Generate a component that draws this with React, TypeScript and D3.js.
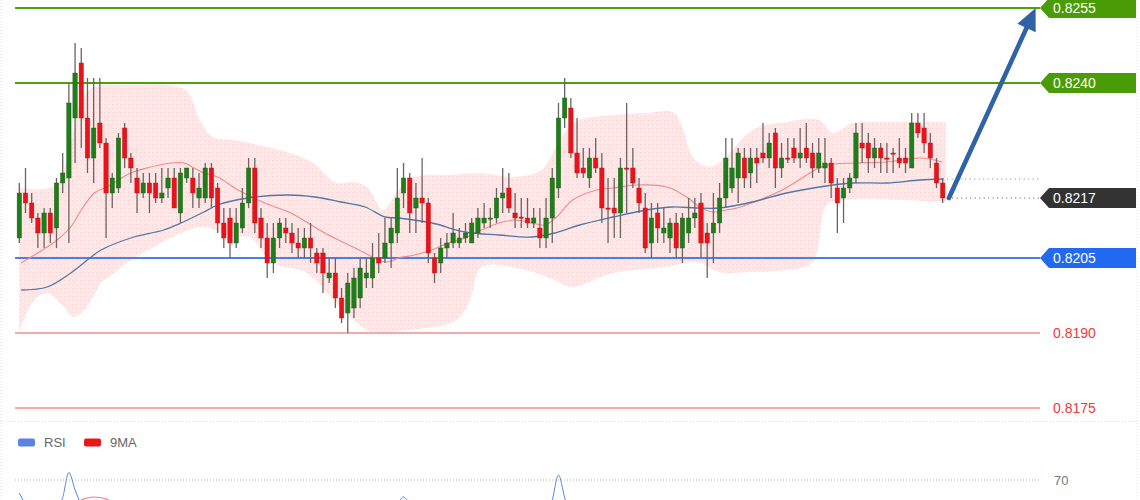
import React from "react";
import * as d3 from "d3";

// ---- candle data (150 bars) ----
const candleOpen = [
  0.8209, 0.8218, 0.8216, 0.8213, 0.821, 0.8214, 0.8211, 0.822, 0.8221, 0.8233,
  0.8244, 0.8233, 0.8225, 0.8232, 0.8228, 0.8218, 0.8219, 0.8231, 0.8225, 0.8221,
  0.8218, 0.822, 0.822, 0.8217, 0.8219, 0.8221, 0.8214, 0.8221, 0.8221, 0.8217,
  0.8217, 0.8223, 0.8219, 0.8212, 0.8213, 0.8208, 0.8211, 0.8216, 0.8223, 0.8213,
  0.8209, 0.8204, 0.8209, 0.8211, 0.821, 0.8208, 0.8207, 0.8209, 0.8206, 0.8206,
  0.8201, 0.8202, 0.8197, 0.8194, 0.8195, 0.8197, 0.8201, 0.8201, 0.8205, 0.8205,
  0.8208, 0.821, 0.8218, 0.8221, 0.8215, 0.8217, 0.8216, 0.8205, 0.8204, 0.8207,
  0.8208, 0.8208, 0.8209, 0.8208, 0.821, 0.8212, 0.82128, 0.8213, 0.8217, 0.8219,
  0.8214, 0.82132, 0.8213, 0.8212, 0.8211, 0.8209, 0.8213, 0.8219, 0.8233, 0.8235,
  0.8226, 0.8223, 0.8221, 0.8225, 0.8223, 0.8215, 0.8215, 0.8214, 0.8223, 0.8223,
  0.8219, 0.8215, 0.8208, 0.8214, 0.821, 0.8209, 0.8212, 0.8207, 0.821, 0.8213,
  0.8216, 0.821, 0.821, 0.8212, 0.8217, 0.8219, 0.8221, 0.8225, 0.8222, 0.8225,
  0.8226, 0.8225, 0.823, 0.8223, 0.8225, 0.8227, 0.8225, 0.8227, 0.8226, 0.8223,
  0.8223, 0.8224, 0.8219, 0.8217, 0.8219, 0.8221, 0.8228, 0.8228, 0.8225, 0.8227,
  0.8225, 0.8226, 0.8225, 0.8225, 0.8223, 0.8232, 0.8231, 0.8228, 0.8224, 0.822,
];
const candleHigh = [
  0.822, 0.8223, 0.8218, 0.8214, 0.8215, 0.8215, 0.8221, 0.8226, 0.824, 0.8248,
  0.8247, 0.8241, 0.8241, 0.8241, 0.8229, 0.8222, 0.823, 0.8232, 0.8226, 0.8223,
  0.8222, 0.8222, 0.8222, 0.8223, 0.8223, 0.8223, 0.8223, 0.8223, 0.8223, 0.8222,
  0.8224, 0.8224, 0.822, 0.8215, 0.8215, 0.8215, 0.8219, 0.8225, 0.8225, 0.8215,
  0.8212, 0.8212, 0.8213, 0.8213, 0.8212, 0.8211, 0.8211, 0.8212, 0.8207, 0.8207,
  0.8205, 0.8205, 0.8199, 0.8202, 0.8203, 0.8205, 0.8205, 0.8208, 0.821, 0.8213,
  0.8213, 0.8223, 0.8224, 0.8222, 0.822, 0.8225, 0.8217, 0.8206, 0.8209, 0.821,
  0.8214, 0.8211, 0.8212, 0.8213, 0.8215, 0.8216, 0.8215, 0.8219, 0.8223, 0.8222,
  0.8218, 0.8217, 0.8217, 0.8215, 0.8215, 0.8217, 0.8223, 0.8236, 0.8241, 0.8237,
  0.8233, 0.8227, 0.8227, 0.8229, 0.8226, 0.8221, 0.8221, 0.8225, 0.8236, 0.8227,
  0.8221, 0.8218, 0.8216, 0.8216, 0.8215, 0.8213, 0.8214, 0.8214, 0.8217, 0.8217,
  0.8218, 0.8212, 0.8218, 0.822, 0.8229, 0.8229, 0.8227, 0.8227, 0.8227, 0.8227,
  0.8232, 0.823, 0.8231, 0.8228, 0.8229, 0.8229, 0.8231, 0.8232, 0.8228, 0.8229,
  0.8229, 0.8225, 0.8221, 0.8221, 0.8222, 0.8232, 0.8232, 0.823, 0.8229, 0.8228,
  0.8228, 0.8227, 0.8229, 0.8227, 0.8234, 0.8234, 0.8234, 0.823, 0.8225, 0.8221,
];
const candleLow = [
  0.8208, 0.8214, 0.8212, 0.8207, 0.8207, 0.8208, 0.8207, 0.8218, 0.8208, 0.8224,
  0.8227, 0.8222, 0.822, 0.8227, 0.8209, 0.8215, 0.8218, 0.8223, 0.822, 0.8214,
  0.8217, 0.8214, 0.8216, 0.8216, 0.8217, 0.8215, 0.8212, 0.822, 0.8215, 0.8215,
  0.8216, 0.8215, 0.821, 0.8207, 0.8205, 0.8207, 0.821, 0.8215, 0.821, 0.8207,
  0.8201, 0.8202, 0.8207, 0.8208, 0.8206, 0.8205, 0.8205, 0.8204, 0.8202, 0.8198,
  0.82, 0.8195, 0.8192, 0.819, 0.8193, 0.8195, 0.8199, 0.8199, 0.8202, 0.8204,
  0.8203, 0.8208, 0.8215, 0.821, 0.821, 0.8212, 0.8204, 0.82, 0.8202, 0.8205,
  0.8207, 0.8207, 0.8208, 0.8208, 0.8209, 0.8211, 0.8211, 0.8212, 0.8214, 0.8214,
  0.8211, 0.8211, 0.8211, 0.8211, 0.8207, 0.8207, 0.8208, 0.8217, 0.8231, 0.8225,
  0.8221, 0.8221, 0.8219, 0.8222, 0.8212, 0.8208, 0.8209, 0.8209, 0.8214, 0.8219,
  0.8214, 0.8206, 0.8205, 0.8208, 0.8208, 0.8206, 0.8205, 0.8204, 0.8208, 0.8211,
  0.8205, 0.8201, 0.8204, 0.821, 0.8215, 0.8218, 0.8216, 0.8219, 0.8219, 0.822,
  0.8224, 0.8223, 0.8219, 0.8221, 0.8224, 0.8224, 0.8223, 0.8224, 0.8221, 0.8222,
  0.822, 0.8217, 0.821, 0.8212, 0.8218, 0.822, 0.8224, 0.8222, 0.8223, 0.8222,
  0.8222, 0.8222, 0.8223, 0.8222, 0.8223, 0.8229, 0.8226, 0.8223, 0.8219, 0.8216,
];
const candleClose = [
  0.8218, 0.8216, 0.8213, 0.821, 0.8214, 0.821, 0.822, 0.8222, 0.8236, 0.8242,
  0.8233, 0.8225, 0.8231, 0.8228, 0.8218, 0.8221, 0.8229, 0.8225, 0.8223, 0.8218,
  0.822, 0.8218, 0.8217, 0.8218, 0.8221, 0.8215, 0.8222, 0.8223, 0.8218, 0.8219,
  0.8223, 0.8217, 0.8212, 0.8209, 0.8208, 0.8212, 0.8216, 0.8223, 0.8212, 0.8209,
  0.8204, 0.8209, 0.8212, 0.821, 0.8208, 0.8207, 0.8209, 0.8207, 0.8204, 0.8202,
  0.8202, 0.8197, 0.8193, 0.82, 0.8201, 0.8203, 0.8202, 0.8205, 0.8204, 0.8208,
  0.8211, 0.8217, 0.8221, 0.8214, 0.8217, 0.8216, 0.8206, 0.8202, 0.8207, 0.8208,
  0.821, 0.8209, 0.821, 0.8212, 0.8213, 0.8213, 0.8213, 0.8217, 0.8218, 0.8215,
  0.8213, 0.8213, 0.8212, 0.8213, 0.8209, 0.8213, 0.8221, 0.8233, 0.8237, 0.8226,
  0.8222, 0.8222, 0.8225, 0.8223, 0.8215, 0.82148, 0.8214, 0.8223, 0.82228, 0.822,
  0.8216, 0.8207, 0.8213, 0.8211, 0.8211, 0.8212, 0.8207, 0.8213, 0.8213, 0.8214,
  0.8208, 0.8208, 0.8212, 0.8217, 0.8225, 0.8223, 0.8226, 0.8221, 0.8225, 0.8224,
  0.8225, 0.8228, 0.8223, 0.8225, 0.82248, 0.8225, 0.8226, 0.8225, 0.8223, 0.8226,
  0.8224, 0.822, 0.8216, 0.8219, 0.8221, 0.823, 0.8227, 0.8225, 0.8227, 0.8225,
  0.82248, 0.82258, 0.8224, 0.8224, 0.8232, 0.823, 0.8228, 0.8225, 0.822, 0.8217,
];

// ---- Bollinger band edges, sampled [bar index, price] ----
const bandUpperIdx = [0, 5.8, 7.9, 9.8, 11.7, 17.9, 25.1, 27.2, 29.1, 31.2, 34.5, 37.2, 43.7, 47.4, 51.2, 53.8, 56.1, 58.7, 61.2, 63.8, 69.3, 74.6, 79.9, 84.3, 86.1, 88.3, 90.4, 95.7, 101.2, 105.4, 107.0, 108.7, 111.4, 113.8, 118.3, 123.8, 129.1, 131.2, 134.5, 140.0, 145.3, 149.5];
const bandUpper = [0.8219, 0.82194, 0.82256, 0.82356, 0.8239, 0.82396, 0.82394, 0.82382, 0.82326, 0.82292, 0.82286, 0.8228, 0.8226, 0.8224, 0.822, 0.82202, 0.82192, 0.82146, 0.82186, 0.82212, 0.82216, 0.8222, 0.82212, 0.82226, 0.8226, 0.82306, 0.82326, 0.82336, 0.8234, 0.82342, 0.82312, 0.82252, 0.82232, 0.8225, 0.82306, 0.82322, 0.82326, 0.823, 0.8232, 0.82322, 0.82322, 0.82322];
const bandLowerIdx = [0, 2.4, 4.5, 7.2, 8.8, 10.9, 13.2, 15.3, 18.0, 21.7, 26.1, 29.8, 34.5, 37.2, 40.9, 46.4, 51.7, 56.1, 58.2, 62.5, 66.7, 70.6, 72.7, 74.6, 81.6, 86.4, 89.1, 95.8, 104.5, 109.3, 113.0, 118.3, 123.8, 128.0, 130.3, 133.2, 142.0, 149.5];
const bandLower = [0.81902, 0.81966, 0.8198, 0.81952, 0.81932, 0.81952, 0.82, 0.8202, 0.82046, 0.82072, 0.821, 0.82112, 0.82092, 0.82092, 0.8204, 0.8202, 0.81952, 0.81906, 0.819, 0.81906, 0.81912, 0.81926, 0.81966, 0.82032, 0.82026, 0.82006, 0.81992, 0.8202, 0.82032, 0.82042, 0.82022, 0.82022, 0.82026, 0.82042, 0.82156, 0.82166, 0.82166, 0.82162];

// ---- moving averages, sampled [bar index, price] ----
const midIdx = [0.3, 4.5, 6.1, 8.3, 10.0, 12.1, 14.1, 18.0, 20.6, 24.5, 26.6, 28.2, 29.8, 32.0, 35.3, 39.6, 43.8, 46.6, 49.3, 52.5, 55.8, 57.9, 59.5, 61.2, 63.8, 66.6, 69.3, 71.9, 74.6, 77.4, 80.0, 82.7, 84.8, 86.7, 89.3, 93.2, 95.8, 99.6, 104.5, 107.7, 109.8, 111.9, 114.1, 115.8, 123.1, 128.4, 130.3, 134.5, 140.0, 145.3, 148.9];
const midVal = [0.8204, 0.82072, 0.82086, 0.82112, 0.82146, 0.8218, 0.82192, 0.8222, 0.8223, 0.8224, 0.8224, 0.8223, 0.8222, 0.82212, 0.82186, 0.8216, 0.8214, 0.8212, 0.821, 0.8208, 0.8206, 0.82046, 0.82042, 0.8205, 0.82056, 0.82066, 0.8208, 0.8209, 0.82106, 0.8212, 0.82126, 0.8212, 0.82116, 0.82132, 0.82166, 0.82186, 0.8219, 0.82196, 0.82192, 0.82172, 0.82152, 0.82142, 0.82146, 0.8215, 0.82186, 0.82226, 0.82236, 0.8224, 0.82242, 0.8225, 0.82242];
const slowIdx = [0.3, 4.5, 8.3, 11.6, 13.2, 18.0, 23.3, 26.1, 29.8, 32.0, 36.9, 43.3, 47.7, 51.9, 55.8, 59.0, 61.2, 66.6, 71.9, 77.4, 82.7, 86.4, 90.4, 95.8, 101.2, 105.4, 109.3, 113.0, 118.3, 123.8, 129.1, 134.5, 140.0, 145.3, 148.9];
const slowVal = [0.81986, 0.81992, 0.8202, 0.82052, 0.82066, 0.8209, 0.82106, 0.8212, 0.82142, 0.82156, 0.8217, 0.82176, 0.82172, 0.82162, 0.82152, 0.82132, 0.8213, 0.8212, 0.82102, 0.82096, 0.82092, 0.821, 0.82116, 0.82132, 0.82146, 0.82152, 0.8215, 0.8215, 0.82162, 0.8218, 0.82192, 0.822, 0.822, 0.82206, 0.82208];

// ---- levels ----
const resistanceLevels = [0.8255, 0.824];
const supportLevel = 0.8205;
const lowerLevels = [0.819, 0.8175];
const currentPrice = 0.8217;
const arrowFromIdx = 150;
const arrowToIdx = 164;
const arrowTarget = 0.8255;

// ---- RSI panel ----
const rsiIdx = [0, 1, 2, 6, 7, 8, 9, 10, 11, 60, 61, 62, 63, 64, 85, 86, 87, 88, 89, 149];
const rsiVal = [64.8, 60, 55, 58, 63, 73, 66, 60, 55, 55, 60, 63.2, 60, 55, 55, 62, 72, 63, 55, 55];
const maIdx = [8, 9, 10, 11, 12, 13, 14, 15, 16];
const maVal = [57, 60, 62, 62.8, 63.2, 63, 62.4, 61, 58];
const rsiLevel = 70;
const legendItems = ["RSI", "9MA"];

const fmt = (v: number) => v.toFixed(4);

export default function App() {
  const W = 1140;
  const H = 500;
  const x = d3.scaleLinear().domain([0, 149]).range([19.3, 942.7]);
  const y = d3.scaleLinear().domain([0.8175, 0.8255]).range([408, 8]);
  const ry = d3.scaleLinear().domain([30, 70]).range([580, 480]);
  const lineLeft = 15;
  const lineRight = 1040;
  const bodyW = 4.4;

  const curveLine = d3
    .line<[number, number]>()
    .x((d) => x(d[0]))
    .y((d) => y(d[1]))
    .curve(d3.curveCatmullRom.alpha(0.5));

  const upperPts = bandUpperIdx.map((k, i) => [k, bandUpper[i]] as [number, number]);
  const lowerPts = bandLowerIdx.map((k, i) => [k, bandLower[i]] as [number, number]).reverse();
  const bandPath =
    (curveLine(upperPts) || "") + "L" + (curveLine(lowerPts) || "").slice(1) + "Z";
  const midPath = curveLine(midIdx.map((k, i) => [k, midVal[i]] as [number, number])) || "";
  const slowPath = curveLine(slowIdx.map((k, i) => [k, slowVal[i]] as [number, number])) || "";

  const rsiLine = d3
    .line<[number, number]>()
    .x((d) => x(d[0]))
    .y((d) => ry(d[1]))
    .curve(d3.curveMonotoneX);
  const rsiPath = rsiLine(rsiIdx.map((k, i) => [k, rsiVal[i]] as [number, number])) || "";
  const maPath = rsiLine(maIdx.map((k, i) => [k, maVal[i]] as [number, number])) || "";

  const tag = (cy: number) =>
    `M${lineRight},${cy} L${lineRight + 9},${cy - 10} L1136,${cy - 10} L1136,${cy + 10} L${lineRight + 9},${cy + 10} Z`;

  const ax0 = x(arrowFromIdx);
  const ay0 = y(currentPrice);
  const ax1 = x(arrowToIdx);
  const ay1 = y(arrowTarget);
  const ang = Math.atan2(ay1 - ay0, ax1 - ax0);
  const headLen = 22;
  const headW = 10;
  const bx = ax1 - headLen * Math.cos(ang);
  const by = ay1 - headLen * Math.sin(ang);
  const px = -Math.sin(ang);
  const py = Math.cos(ang);
  const headPath = `M${ax1},${ay1} L${bx + px * headW},${by + py * headW} L${bx - px * headW},${by - py * headW} Z`;

  const font = "'Liberation Sans', Arial, sans-serif";

  return (
    <svg
      width={W}
      height={H}
      style={{ position: "absolute", left: 0, top: 0, display: "block", background: "#fff" }}
    >
      <defs>
        <pattern id="dots" width="4" height="4" patternUnits="userSpaceOnUse">
          <rect width="4" height="4" fill="#fde7e7" />
          <rect x="0" y="0" width="1" height="1" fill="#f9d3d3" />
        </pattern>
      </defs>
      <rect width={W} height={H} fill="#ffffff" />
      {/* frame dotted edges */}
      <line x1={1} x2={1} y1={0} y2={H} stroke="#d8e4d8" strokeDasharray="1 2" />
      <line x1={1137} x2={1137} y1={0} y2={H} stroke="#e2e2e2" strokeDasharray="1 2" />
      <line x1={0} x2={W} y1={421.5} y2={421.5} stroke="#e0e0e0" strokeDasharray="1 2" />

      {/* Bollinger band */}
      <path d={bandPath} fill="url(#dots)" stroke="none" />

      {/* levels */}
      {resistanceLevels.map((lv) => (
        <line key={lv} x1={lineLeft} x2={lineRight} y1={y(lv)} y2={y(lv)} stroke="#4fa00e" strokeWidth={2.2} />
      ))}
      <line x1={lineLeft} x2={lineRight} y1={y(supportLevel)} y2={y(supportLevel)} stroke="#4a7fe8" strokeWidth={2} />
      {lowerLevels.map((lv) => (
        <line key={lv} x1={lineLeft} x2={lineRight} y1={y(lv)} y2={y(lv)} stroke="#f7a9a9" strokeWidth={2} />
      ))}

      {/* moving averages */}
      <path d={midPath} fill="none" stroke="#f08a8a" strokeWidth={1.1} />
      <path d={slowPath} fill="none" stroke="#4f78a8" strokeWidth={1.3} />

      {/* candles */}
      {candleOpen.map((o, i) => {
        const c = candleClose[i];
        const up = c >= o;
        const top = y(Math.max(o, c));
        const bot = y(Math.min(o, c));
        const cx = x(i);
        return (
          <g key={i}>
            <line x1={cx} x2={cx} y1={y(candleHigh[i])} y2={y(candleLow[i])} stroke="#6d6262" strokeWidth={1.3} />
            <rect
              x={cx - bodyW / 2}
              y={top}
              width={bodyW}
              height={Math.max(1.2, bot - top)}
              fill={up ? "#1f7d1a" : "#e8131b"}
              stroke={up ? "#1a5e16" : "#c01016"}
              strokeWidth={0.4}
            />
          </g>
        );
      })}

      {/* price extension dotted lines */}
      <line x1={x(149)} x2={lineRight} y1={y(slowVal[slowVal.length - 1])} y2={y(slowVal[slowVal.length - 1])} stroke="#5b86c8" strokeWidth={1.2} strokeDasharray="1 3.5" />
      <line x1={x(149) + 5} x2={lineRight} y1={y(currentPrice)} y2={y(currentPrice)} stroke="#555" strokeWidth={1.2} strokeDasharray="1 3.5" />

      {/* arrow */}
      <line x1={ax0} y1={ay0} x2={bx} y2={by} stroke="#2f62a6" strokeWidth={4.6} strokeLinecap="round" />
      <path d={headPath} fill="#2f62a6" />

      {/* price tags */}
      {resistanceLevels.map((lv) => (
        <g key={"t" + lv}>
          <path d={tag(y(lv))} fill="#4a9c06" />
          <text x={1053} y={y(lv)} dy="0.36em" fill="#fff" fontSize={14} fontFamily={font}>
            {fmt(lv)}
          </text>
        </g>
      ))}
      <path d={tag(y(currentPrice))} fill="#333333" />
      <text x={1053} y={y(currentPrice)} dy="0.36em" fill="#fff" fontSize={14} fontFamily={font}>
        {fmt(currentPrice)}
      </text>
      <path d={tag(y(supportLevel))} fill="#2368f0" />
      <text x={1053} y={y(supportLevel)} dy="0.36em" fill="#fff" fontSize={14} fontFamily={font}>
        {fmt(supportLevel)}
      </text>
      {lowerLevels.map((lv) => (
        <text key={"r" + lv} x={1053} y={y(lv)} dy="0.36em" fill="#f03a3a" fontSize={14} fontFamily={font}>
          {fmt(lv)}
        </text>
      ))}

      {/* RSI panel */}
      <rect x={18} y={438.5} width={17} height={8} rx={2} fill="#5b84e0" />
      <text x={44} y={442.5} dy="0.35em" fill="#666" fontSize={13} fontFamily={font}>
        {legendItems[0]}
      </text>
      <rect x={84} y={438.5} width={17} height={8} rx={2} fill="#e81818" />
      <text x={110} y={442.5} dy="0.35em" fill="#666" fontSize={13} fontFamily={font}>
        {legendItems[1]}
      </text>
      <line x1={lineLeft} x2={lineRight} y1={ry(rsiLevel)} y2={ry(rsiLevel)} stroke="#b5b5b5" strokeDasharray="1 2" />
      <text x={1054} y={ry(rsiLevel)} dy="0.36em" fill="#777" fontSize={13} fontFamily={font}>
        {rsiLevel}
      </text>
      <path d={maPath} fill="none" stroke="#f08080" strokeWidth={1.2} />
      <path d={rsiPath} fill="none" stroke="#5b84e0" strokeWidth={1} />
    </svg>
  );
}
